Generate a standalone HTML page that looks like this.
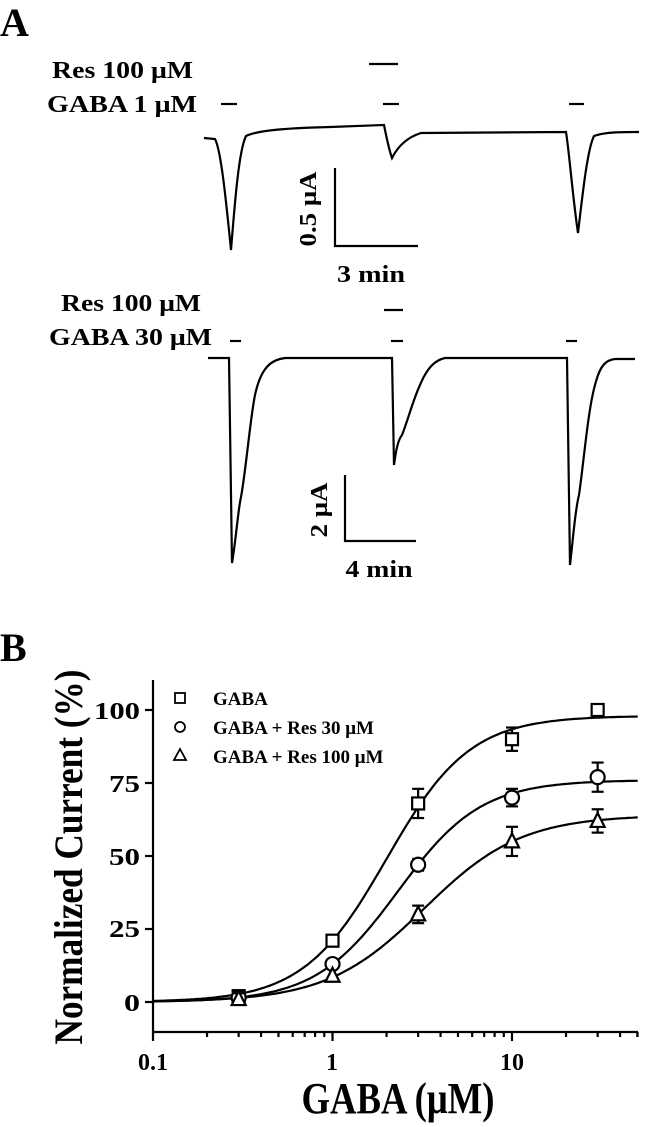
<!DOCTYPE html>
<html><head><meta charset="utf-8"><style>
html,body{margin:0;padding:0;background:#fff;}
svg{display:block;font-family:"Liberation Serif",serif;font-weight:bold;}
</style></head><body>
<svg id="s" width="654" height="1127" viewBox="0 0 654 1127" xmlns="http://www.w3.org/2000/svg">
<rect width="654" height="1127" fill="#fff"/>
<text x="0" y="36" font-size="40">A</text>
<text x="52" y="78" font-size="24" textLength="141" lengthAdjust="spacingAndGlyphs">Res 100 μM</text>
<text x="47" y="112" font-size="24" textLength="150" lengthAdjust="spacingAndGlyphs">GABA 1 μM</text>
<g stroke="#000" stroke-width="2.2" fill="none">
<line x1="369" y1="64" x2="398" y2="64"/>
<line x1="221" y1="104" x2="237" y2="104"/>
<line x1="383" y1="104" x2="399" y2="104"/>
<line x1="569" y1="104" x2="584" y2="104"/>
<path d="M204,138 L215,139 C221,150 226,200 231,250 C235,200 239,150 246,136 C258,130 290,128 330,127 L384,125 C386,135 389,150 392,158 C397,148 405,138 421,133 L566,132 C569,150 573,200 578,233 C582,200 587,150 594,136 C604,132 622,132 639,132"/>
<polyline points="335,168 335,246 418,246"/>
</g>
<text transform="translate(316,209) rotate(-90)" text-anchor="middle" font-size="24" textLength="75" lengthAdjust="spacingAndGlyphs">0.5 μA</text>
<text x="371" y="282" text-anchor="middle" font-size="24" textLength="68" lengthAdjust="spacingAndGlyphs">3 min</text>

<text x="61" y="311" font-size="24" textLength="140" lengthAdjust="spacingAndGlyphs">Res 100 μM</text>
<text x="49" y="345" font-size="24" textLength="163" lengthAdjust="spacingAndGlyphs">GABA 30 μM</text>
<g stroke="#000" stroke-width="2.2" fill="none">
<line x1="384" y1="310" x2="403" y2="310"/>
<line x1="230" y1="341" x2="241" y2="341"/>
<line x1="391" y1="341" x2="403" y2="341"/>
<line x1="566" y1="341" x2="577" y2="341"/>
<path d="M208,358 L229,358 L232,563 C236,540 238,510 241,497 C246,470 250,420 255,395 C260,372 268,362 280,359 L285,358 L392,358 L394,465 C396,450 398,440 402,435 C408,420 413,400 420,385 C427,368 435,360 445,358 L567,358 L570,565 C573,540 575,510 579,495 C584,460 588,410 595,385 C600,365 606,360 615,359 L635,359"/>
<polyline points="345,475 345,541 416,541"/>
</g>
<text transform="translate(327,510) rotate(-90)" text-anchor="middle" font-size="24" textLength="55" lengthAdjust="spacingAndGlyphs">2 μA</text>
<text x="379" y="577" text-anchor="middle" font-size="24" textLength="67" lengthAdjust="spacingAndGlyphs">4 min</text>

<text x="0" y="661" font-size="40">B</text>
<text transform="translate(82,857) rotate(-90)" text-anchor="middle" font-size="40" textLength="375" lengthAdjust="spacingAndGlyphs">Normalized Current (%)</text>
<text x="398" y="1113" text-anchor="middle" font-size="44" textLength="193" lengthAdjust="spacingAndGlyphs">GABA (μM)</text>
<g font-size="24" text-anchor="end">
<text x="140" y="719" textLength="46" lengthAdjust="spacingAndGlyphs">100</text>
<text x="140" y="792" textLength="31" lengthAdjust="spacingAndGlyphs">75</text>
<text x="140" y="865" textLength="31" lengthAdjust="spacingAndGlyphs">50</text>
<text x="140" y="937" textLength="31" lengthAdjust="spacingAndGlyphs">25</text>
<text x="140" y="1011" textLength="16" lengthAdjust="spacingAndGlyphs">0</text>
</g>
<g font-size="24" text-anchor="middle">
<text x="153" y="1070">0.1</text>
<text x="332" y="1070">1</text>
<text x="512" y="1070">10</text>
</g>
<g font-size="19">
<text x="213" y="705">GABA</text>
<text x="213" y="734">GABA + Res 30 μM</text>
<text x="213" y="763">GABA + Res 100 μM</text>
</g>
<g id="plot" stroke="#000" stroke-width="2.2" fill="none">
<polyline points="153,680 153,1032 638,1032"/>
<rect x="175" y="693" width="10" height="10" stroke-width="1.8"/>
<circle cx="180" cy="727" r="5" stroke-width="1.8"/>
<polygon points="180,749 186,760 174,760" stroke-width="1.8"/>
</g>
</svg>
<script>
(function(){
var NS="http://www.w3.org/2000/svg",g=document.getElementById("plot");
function X(c){return 153+179.5*(Math.log10(c)+1);}
function Y(v){return 1002-2.92*v;}
function el(n,a){var e=document.createElementNS(NS,n);for(var k in a)e.setAttribute(k,a[k]);g.appendChild(e);return e;}
[100,75,50,25,0].forEach(function(v){el("line",{x1:145,y1:Y(v),x2:153,y2:Y(v)});});
for(var d=-1;d<2;d++){for(var m=1;m<10;m++){var c=m*Math.pow(10,d);if(c>50)break;var x=X(c);el("line",{x1:x,y1:1032,x2:x,y2:1032+(m==1?9:5)});}}
el("line",{x1:X(50),y1:1032,x2:X(50),y2:1037});
var fits=[[98,2,1.87],[76,2.32,1.88],[64,3.24,1.6]];
fits.forEach(function(f){var p="";for(var i=0;i<=200;i++){var lc=-1+i*2.7/200,c=Math.pow(10,lc);var v=f[0]/(1+Math.pow(f[1]/c,f[2]));p+=(i?"L":"M")+X(c).toFixed(1)+","+Y(v).toFixed(1);}el("path",{d:p});});
var conc=[0.3,1,3,10,30];
var data=[[[2,1],[21,1],[68,5],[90,4],[100,1]],[[1.5,1],[13,1],[47,2],[70,3],[77,5]],[[1,2],[9,1],[30,3],[55,5],[62,4]]];
data.forEach(function(s,k){s.forEach(function(d,i){var x=X(conc[i]),y=Y(d[0]),e=d[1]*2.92;
if(d[1]>1.5){el("line",{x1:x,y1:y-e,x2:x,y2:y+e});el("line",{x1:x-6,y1:y-e,x2:x+6,y2:y-e});el("line",{x1:x-6,y1:y+e,x2:x+6,y2:y+e});}
if(k==0)el("rect",{x:x-6,y:y-6,width:12,height:12,fill:"#fff"});
else if(k==1)el("circle",{cx:x,cy:y,r:7,fill:"#fff"});
else el("polygon",{points:x+","+(y-8)+" "+(x+7)+","+(y+6)+" "+(x-7)+","+(y+6),fill:"#fff"});});});
})();
</script>
</body></html>
